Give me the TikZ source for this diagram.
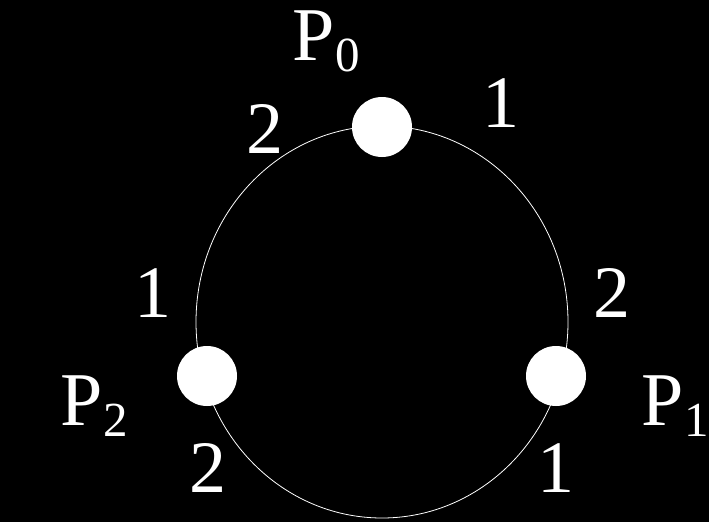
\documentclass[tikz,border=0pt]{standalone}
\usepackage{fontspec}
\setmainfont{Liberation Serif}
\usetikzlibrary{positioning}
\definecolor{ringwhite}{RGB}{255,255,255}
\newcommand{\procname}[1]{P\kern1pt\raisebox{-11pt}{\fontsize{49}{49}\selectfont #1}}
\tikzset{
  proc/.style={circle, fill=ringwhite, inner sep=0pt, minimum width=58pt, minimum height=60pt},
  plabel/.style={anchor=base west, inner sep=0pt, text=ringwhite, font=\fontsize{76}{80}\selectfont},
  port/.style={anchor=base, inner sep=0pt, text=ringwhite, font=\fontsize{74}{80}\selectfont},
  ring/.style={draw=ringwhite, line width=0.8pt},
}
\begin{document}
\begin{tikzpicture}[x=1pt, y=-1pt]
    \fill[black] (0,0) rectangle (709,522);
    \useasboundingbox (0,0) rectangle (709,522);
    \draw[ring] (382,322) ellipse [x radius=186, y radius=196];
    % processes
    \node[proc] (p0) at (382,127) {};
    \node[proc] (p1) at (556,376) {};
    \node[proc] (p2) at (207,376) {};
    \node[plabel] (lp0) at (292,60) {\procname{0}};
    \node[plabel] (lp1) at (641,425) {\procname{1}};
    \node[plabel] (lp2) at (60,425) {\procname{2}};
    % port numbers
    \node[port] (p0a) at (265,153) {2};
    \node[port] (p0b) at (501,127) {1};
    \node[port] (p1a) at (612,317) {2};
    \node[port] (p1b) at (556,492) {1};
    \node[port] (p2a) at (153,317) {1};
    \node[port] (p2b) at (208,492) {2};
\end{tikzpicture}
\end{document}
